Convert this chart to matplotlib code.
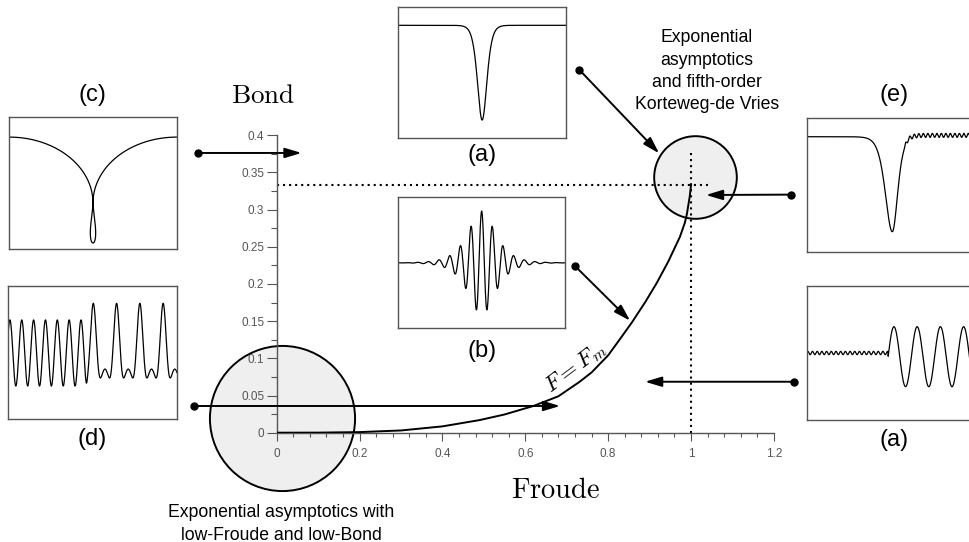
import numpy as np
import matplotlib.pyplot as plt
from matplotlib.ticker import MultipleLocator

plt.rcParams['font.family'] = ['Liberation Sans', 'DejaVu Sans']
plt.rcParams['mathtext.fontset'] = 'cm'

W, H = 969, 542   # figure size in pixels

# F = F_m boundary (Froude, Bond)
froude = [0, 0.1, 0.2, 0.3, 0.4, 0.49, 0.55, 0.62, 0.68, 0.73, 0.76, 0.80, 0.83,
          0.857, 0.89, 0.917, 0.945, 0.973, 0.985, 0.99, 0.997, 1.0]
bond = [0, 0.0001, 0.0008, 0.003, 0.0085, 0.017, 0.0245, 0.036, 0.049, 0.068, 0.081,
        0.104, 0.127, 0.148, 0.176, 0.201, 0.230, 0.263, 0.282, 0.294, 0.318, 0.333]

froude_crit = 1.0
bond_crit = 1 / 3

x_ticks = [0, 0.2, 0.4, 0.6, 0.8, 1.0, 1.2]
x_tick_labels = ['0', '0.2', '0.4', '0.6', '0.8', '1', '1.2']
y_ticks = [0, 0.05, 0.1, 0.15, 0.2, 0.25, 0.3, 0.35, 0.4]
y_tick_labels = ['0', '0.05', '0.1', '0.15', '0.2', '0.25', '0.3', '0.35', '0.4']

# shape parameters of the small profile sketches (inset units: x, y in [-1, 1])
a_level, a_depth, a_width = 0.717, 1.44, 0.075               # (a) top: solitary dip
b_amp, b_wavelength, b_envelope = 0.79, 0.128, 0.144           # (b) wave packet
c_edge, c_cusp, c_bottom, c_loop_halfwidth = 0.70, -0.298, -0.905, 0.032   # (c) bubble
d_left_amp, d_left_mid, d_left_wl, d_left_peak = 0.497, -0.007, 0.1405, -0.138
d_right_peak, d_right_wl, d_right_scale, d_right_mid = 0.0077, 0.276, 0.824, -0.043
d_harmonics = [0.55, 0.35, 0.05]
d_switch, d_switch_width = -0.067, 0.012
e_level, e_depth, e_center, e_width_left, e_width_right = 0.724, 1.424, 0.019, 0.11, 0.085
e_ripple_start, e_ripple_level, e_ripple_amp, e_ripple_wl = 0.17, 0.02, 0.03, 0.0536
f_ripple_amp, f_ripple_wl = 0.025, 0.056                      # (a) bottom right
f_start, f_amp, f_mid, f_wl = -0.036, 0.448, -0.055, 0.277


def box(l, t, r, b):
    # pixel box (left, top, right, bottom) -> figure fraction rect
    return [l / W, 1 - b / H, (r - l) / W, (b - t) / H]


def fig_text(x, y, s, **kw):
    fig.text(x / W, 1 - y / H, s, ha='center', va='center', **kw)


def make_inset(rect):
    axi = fig.add_axes(rect)
    axi.set_xlim(-1, 1)
    axi.set_ylim(-1, 1)
    axi.set_xticks([])
    axi.set_yticks([])
    for sp in axi.spines.values():
        sp.set_color('#555555')
        sp.set_linewidth(1.0)
    return axi


def arrow(ax, tail, tip):
    ax.annotate('', xy=tip, xytext=tail, annotation_clip=False,
                arrowprops=dict(arrowstyle='-|>,head_length=1.0,head_width=0.3',
                                lw=1.4, color='k', mutation_scale=10,
                                shrinkA=0, shrinkB=0))
    ax.plot(tail[0], tail[1], 'o', ms=5, color='k', clip_on=False, zorder=4)


fig = plt.figure(figsize=(W / 100, H / 100), dpi=100)

# main Froude-Bond diagram
ax = fig.add_axes(box(276.7, 135.1, 773.9, 432.7))
ax.set_facecolor('none')
ax.set_xlim(0, 1.2)
ax.set_ylim(0, 0.4)
for side in ['top', 'right']:
    ax.spines[side].set_visible(False)
for side in ['left', 'bottom']:
    ax.spines[side].set_color('#555555')
    ax.spines[side].set_linewidth(1.0)
ax.set_xticks(x_ticks)
ax.set_xticklabels(x_tick_labels)
ax.set_yticks(y_ticks)
ax.set_yticklabels(y_tick_labels)
ax.xaxis.set_minor_locator(MultipleLocator(0.04))
ax.yaxis.set_minor_locator(MultipleLocator(0.025))
ax.tick_params(axis='x', which='major', direction='out', length=5.8, width=0.8,
               color='#555555', labelcolor='#555555', labelsize=8.5, pad=5)
ax.tick_params(axis='x', which='minor', direction='out', length=3.2, width=0.8,
               color='#555555')
ax.tick_params(axis='y', which='major', direction='out', length=7.5, width=0.8,
               color='#555555', labelcolor='#555555', labelsize=8.5, pad=1.5)
ax.tick_params(axis='y', which='minor', direction='out', length=4.5, width=0.8,
               color='#555555')

# shaded regions
ax.plot(0.0128, 0.0198, 'o', ms=104.5, mfc='#efefef', mec='k', mew=1.4,
        zorder=0.5, clip_on=False)
ax.plot(1.0097, 0.3437, 'o', ms=59.5, mfc='#efefef', mec='k', mew=1.4,
        zorder=0.5, clip_on=False)

# critical Froude / Bond lines
ax.plot([0, 1.042], [bond_crit, bond_crit], color='k', lw=1.5, ls=(0, (1, 1.9)),
        clip_on=False)
ax.plot([froude_crit, froude_crit], [0, 0.379], color='k', lw=1.5, ls=(0, (1, 1.9)),
        clip_on=False)

ax.plot(froude, bond, color='k', lw=1.4, solid_capstyle='round', zorder=3)
ax.text(0.722, 0.0875, r'$F = F_m$', fontsize=16.5, rotation=37,
        ha='center', va='center', rotation_mode='anchor')

# arrows from the profile sketches
arrow(ax, (-0.19, 0.376), (0.06, 0.376))
arrow(ax, (0.730, 0.488), (0.923, 0.3755))
arrow(ax, (0.720, 0.224), (0.853, 0.1505))
arrow(ax, (1.241, 0.320), (1.036, 0.3195))
arrow(ax, (1.248, 0.0685), (0.889, 0.0685))
arrow(ax, (-0.1996, 0.0359), (0.684, 0.0359))

fig.text(263.5 / W, 1 - 103 / H, r'$\mathrm{Bond}$', fontsize=19.5,
         ha='center', va='baseline')
fig.text(556 / W, 1 - 498 / H, r'$\mathrm{Froude}$', fontsize=20.5,
         ha='center', va='baseline')

top_lines = ['Exponential', 'asymptotics', 'and fifth-order', 'Korteweg-de Vries']
for i, s in enumerate(top_lines):
    fig_text(707, 38 + 22.3 * i, s, fontsize=12.7)
bottom_lines = ['Exponential asymptotics with', 'low-Froude and low-Bond']
for i, s in enumerate(bottom_lines):
    fig_text(281, 512.7 + 22.3 * i, s, fontsize=12.7)

xs = np.linspace(-1, 1, 1500)

# (a) top
axa = make_inset(box(398.3, 6.7, 566, 138.3))
axa.plot(xs, a_level - a_depth / np.cosh(xs / a_width) ** 2, color='k', lw=0.9)
fig_text(482, 155, '(a)', fontsize=17)

# (b)
axb = make_inset(box(398.3, 197.3, 565, 328.3))
axb.plot(xs, b_amp * np.cos(2 * np.pi * xs / b_wavelength) / np.cosh(xs / b_envelope),
         color='k', lw=0.9)
fig_text(482, 351, '(b)', fontsize=17)

# (c)
axc = make_inset(box(9.3, 117.3, 176.7, 249.3))
th = np.linspace(0, np.pi / 2, 300)
t = np.linspace(0, 2 * np.pi, 300)
rad = c_edge - c_cusp
loop_w = c_loop_halfwidth / 0.65
cx = np.concatenate([-1 + np.sin(th),
                     loop_w * np.sin(t) * np.sin(t / 2) ** 2,
                     1 - np.sin(th[::-1])])
cy = np.concatenate([c_cusp + rad * np.cos(th),
                     c_cusp - (c_cusp - c_bottom) * (1 - np.cos(t)) / 2,
                     c_cusp + rad * np.cos(th[::-1])])
axc.plot(cx, cy, color='k', lw=0.9)
fig_text(92, 95, '(c)', fontsize=17)

# (d)
axd = make_inset(box(8.3, 286, 177, 419))
left = d_left_mid + d_left_amp * np.cos(2 * np.pi * (xs - d_left_peak) / d_left_wl)
ph = 2 * np.pi * (xs - d_right_peak) / d_right_wl
right = d_right_mid + d_right_scale * sum(a * np.cos((n + 1) * ph)
                                          for n, a in enumerate(d_harmonics))
wgt = 0.5 * (1 + np.tanh((xs - d_switch) / d_switch_width))
axd.plot(xs, (1 - wgt) * left + wgt * right, color='k', lw=0.9)
fig_text(92, 438.5, '(d)', fontsize=17)

# (e)
axe = make_inset(box(806.7, 118.3, 974.7, 251.7))
ew = np.where(xs < e_center, e_width_left, e_width_right)
step = 0.5 * (1 + np.tanh((xs - e_ripple_start) / 0.006))
ey = (e_level - e_depth / np.cosh((xs - e_center) / ew) ** 2
      + step * (e_ripple_level + e_ripple_amp * np.sin(2 * np.pi * xs / e_ripple_wl)))
axe.plot(xs, ey, color='k', lw=0.9)
fig_text(894, 95, '(e)', fontsize=17)

# (a) bottom right
axf = make_inset(box(807.3, 286, 975, 420))
fy = np.where(xs < f_start,
              f_ripple_amp * np.sin(2 * np.pi * xs / f_ripple_wl),
              f_mid + f_amp * np.sin(2 * np.pi * (xs - f_start) / f_wl))
axf.plot(xs, fy, color='k', lw=0.9)
fig_text(894, 440, '(a)', fontsize=17)

fig.savefig('out.png', dpi=100)
